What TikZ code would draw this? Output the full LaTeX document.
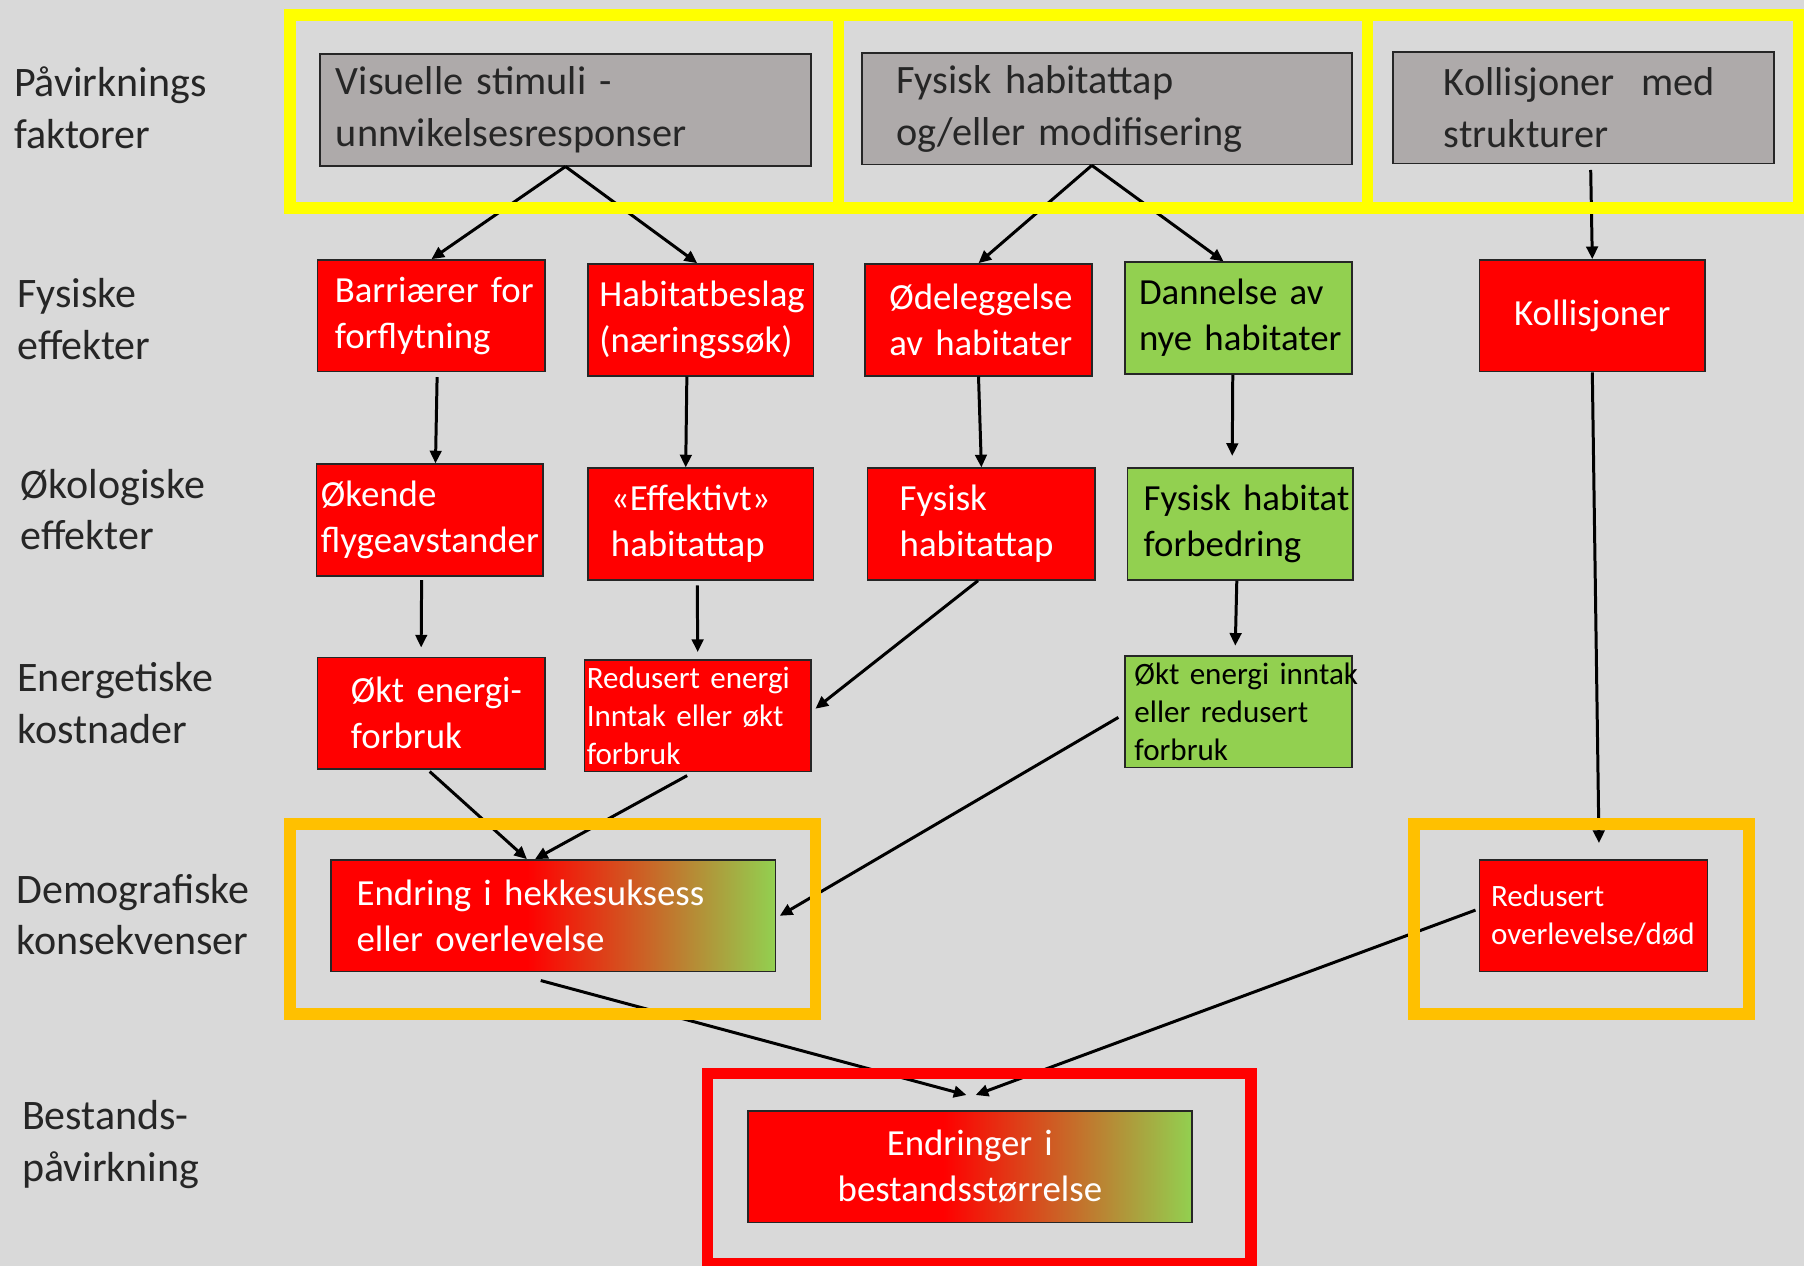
\documentclass[tikz,border=0pt]{standalone}
\usepackage{fontspec}
\setmainfont{Carlito}
\usetikzlibrary{arrows.meta}

\definecolor{bg}{HTML}{D9D9D9}
\definecolor{boxgray}{HTML}{AEAAAA}
\definecolor{boxred}{HTML}{FF0000}
\definecolor{boxgreen}{HTML}{92D050}
\definecolor{frameyellow}{HTML}{FFFF00}
\definecolor{frameorange}{HTML}{FFC000}
\definecolor{ink}{HTML}{262626}

\pgfdeclarehorizontalshading{redgreen}{100bp}{color(0bp)=(boxred); color(25bp)=(boxred);
  color(47bp)=(boxred); color(75bp)=(boxgreen); color(100bp)=(boxgreen)}

\hyphenpenalty=10000
\exhyphenpenalty=10000

\begin{document}
\begin{tikzpicture}[x=1pt,y=-1pt,
    rowlabel/.style={anchor=west,align=left,inner sep=0pt,text=ink,
      font=\fontsize{36.5}{45}\selectfont},
    box/.style={draw=ink,line width=1.5pt,minimum height=97pt,inner ysep=0pt,align=left},
    graybox/.style={box,fill=boxgray,text=ink,font=\fontsize{35}{45}\selectfont},
    redbox/.style={box,fill=boxred,text=white,font=\fontsize{32}{40}\selectfont},
    greenbox/.style={box,fill=boxgreen,text=black,font=\fontsize{32}{40}\selectfont},
    mixbox/.style={box,shading=redgreen,text=white,font=\fontsize{32}{40}\selectfont},
    small/.style={font=\fontsize{27}{33}\selectfont},
    arr/.style={-{Triangle[length=11pt,width=10pt]},line width=2.6pt,black},
    frame/.style={line width=10pt}]

  % background
  \fill[bg] (0,0) rectangle (1568,1100);
  \useasboundingbox (0,0) rectangle (1568,1100);

  % row labels
  \node[rowlabel] (l1) at (12,94) {Påvirknings\\faktorer};
  \node[rowlabel] (l2) at (15,277) {Fysiske\\effekter};
  \node[rowlabel] (l3) at (18,443) {Økologiske\\effekter};
  \node[rowlabel] (l4) at (15,611) {Energetiske\\kostnader};
  \node[rowlabel] (l5) at (14,795) {Demografiske\\konsekvenser};
  \node[rowlabel] (l6) at (19,995) {Bestands-\\påvirkning};

  % faktorer
  \node[graybox,text width=399pt,inner xsep=14pt] (vis) at (491.5,95.5)
    {Visuelle~stimuli~-\\unnvikelsesresponser};
  \node[graybox,text width=366pt,inner xsep=30pt] (hab) at (962,94.5)
    {Fysisk~habitattap\\og/eller~modifisering};
  \node[graybox,text width=243pt,inner xsep=44pt] (koll) at (1376.5,93.5)
    {Kollisjoner~~med\\strukturer};

  % fysiske effekter
  \node[redbox,text width=168pt,inner xsep=15pt] (barr) at (375,274.5) {Barriærer~for\\forflytning};
  \node[redbox,text width=176pt,inner xsep=10pt] (beslag) at (609,278) {Habitatbeslag\\(næringssøk)};
  \node[redbox,text width=155pt,inner xsep=21pt] (odel) at (850.5,278) {Ødeleggelse\\av~habitater};
  \node[greenbox,text width=173pt,inner xsep=12pt] (dann) at (1076.5,276.5) {Dannelse~av\\nye~habitater};
  \node[redbox,text width=176pt,inner xsep=10pt,align=center] (kolli) at (1384,274.5) {Kollisjoner};

  % okologiske effekter
  \node[redbox,text width=189pt,inner xsep=4pt] (flyge) at (373.5,452) {Økende\\flygeavstander};
  \node[redbox,text width=156pt,inner xsep=20pt] (effhab) at (609,455.5) {«Effektivt»\\habitattap};
  \node[redbox,text width=142pt,inner xsep=28pt] (fyshab) at (853,455.5) {Fysisk\\habitattap};
  \node[greenbox,text width=168pt,inner xsep=14pt] (forbed) at (1078,455.5) {Fysisk~habitat\\forbedring};

  % energetiske kostnader
  \node[redbox,text width=140pt,inner xsep=29pt] (oktforb) at (375,620) {Økt~energi-\\forbruk};
  \node[redbox,small,text width=193pt,inner xsep=2pt] (redinn) at (606.5,622)
    {Redusert~energi\\Inntak~eller~økt\\forbruk};
  \node[greenbox,small,text width=181pt,inner xsep=8pt] (oktinn) at (1076.5,618.5)
    {Økt~energi~inntak\\eller~redusert\\forbruk};

  % demografiske konsekvenser
  \node[mixbox,text width=342pt,inner xsep=22pt] (hekke) at (481,796)
    {Endring~i~hekkesuksess\\eller~overlevelse};
  \node[redbox,small,text width=178pt,inner xsep=10pt] (redover) at (1385,796)
    {Redusert\\overlevelse/død};

  % bestandspavirkning
  \node[mixbox,text width=366pt,inner xsep=10pt,align=center] (bestand) at (843,1014)
    {Endringer~i\\bestandsstørrelse};

  % connectors
  \draw[arr] (vis.south) -- (barr.north);
  \draw[arr] (vis.south) -- ([xshift=-3pt]beslag.north);
  \draw[arr] ([xshift=-13pt]hab.south) -- (odel.north);
  \draw[arr] ([xshift=-13pt]hab.south) -- ([xshift=-13pt]dann.north);
  \draw[arr,shorten <=5pt] ([xshift=6pt]koll.south) -- (kolli.north);

  \draw[arr,shorten <=4pt] ([xshift=5pt]barr.south) -- ([xshift=5pt]flyge.north);
  \draw[arr] ([xshift=-12pt]beslag.south) -- ([xshift=-13pt]effhab.north);
  \draw[arr] (odel.south) -- (fyshab.north);
  \draw[arr,shorten >=10pt] ([xshift=-5pt]dann.south) -- ([xshift=-7pt]forbed.north);

  \draw[arr,shorten <=3pt,shorten >=8pt] ([xshift=-7pt]flyge.south) -- ([xshift=-9pt]oktforb.north);
  \draw[arr,shorten <=4pt,shorten >=6pt] ([xshift=-3pt]effhab.south) -- (redinn.north);
  \draw[arr] ([xshift=-3pt]fyshab.south) -- ([xshift=3pt,yshift=6pt]redinn.east);
  \draw[arr,shorten >=8pt] ([xshift=-3pt]forbed.south) -- ([xshift=-3pt]oktinn.north);
  \draw[arr,shorten >=14pt] (kolli.south) -- ([xshift=5pt]redover.north);

  \draw[arr,shorten <=2pt] ([xshift=-3pt]oktforb.south) -- ([xshift=-23pt]hekke.north);
  \draw[arr,shorten <=6pt] ([xshift=-4pt]redinn.south) -- ([xshift=-16pt]hekke.north);
  \draw[arr,shorten <=6pt] ([yshift=-2pt]oktinn.west) -- ([xshift=3pt]hekke.east);

  \draw[arr] ([xshift=-11pt,yshift=-7pt]hekke.south) -- ([xshift=-3pt,yshift=13pt]bestand.north);
  \draw[arr,shorten <=3pt] ([yshift=6pt]redover.west) -- ([xshift=5pt,yshift=13pt]bestand.north);

  % frames
  \draw[frame,frameyellow] (252,13) rectangle (729,181)
    (729,13) rectangle (1188.5,181)
    (1188.5,13) rectangle (1563,181);
  \draw[frame,frameorange] (252,716) rectangle (709,881.5)
    (1229,716) rectangle (1520,881.5);
  \draw[frame,boxred] (615,933) rectangle (1087.5,1098);
\end{tikzpicture}
\end{document}
